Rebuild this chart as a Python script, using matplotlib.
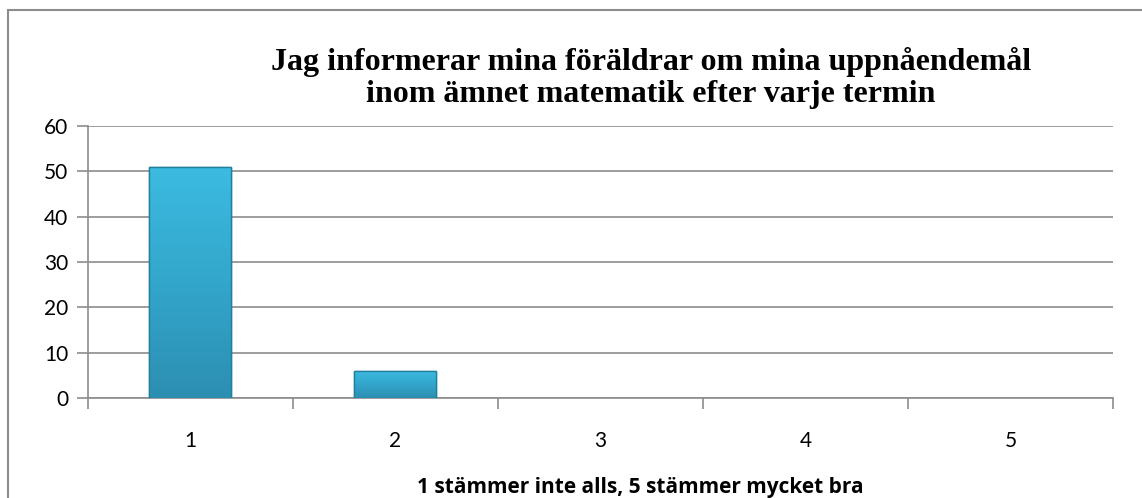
import matplotlib
matplotlib.use('Agg')
import matplotlib.pyplot as plt
import matplotlib.patches as mpatches
from matplotlib.colors import LinearSegmentedColormap
import numpy as np

categories = ['1', '2', '3', '4', '5']
values = [51, 6, 0, 0, 0]
yticks = [0, 10, 20, 30, 40, 50, 60]

EDGE = '#23809D'
GRID = '#8c8c8c'
SANS = ['Lato', 'DejaVu Sans']

fig = plt.figure(figsize=(11.42, 4.98), dpi=100, facecolor='white')
ax = fig.add_axes([0.077, 0.2008, 0.8976, 0.5462])

x = list(range(len(categories)))
bars = ax.bar(x, values, width=0.4, color='#35AED2', edgecolor=EDGE, linewidth=1.0, zorder=3)

# vertical gradient inside each bar (lighter top, darker bottom)
cmap = LinearSegmentedColormap.from_list('bar', ['#2c8fb2', '#33a6cb', '#3cbbe1'])
grad = np.linspace(0, 1, 256).reshape(-1, 1)
for b, v in zip(bars, values):
    if v == 0:
        b.set_visible(False)
        continue
    x0, w = b.get_x(), b.get_width()
    im = ax.imshow(grad, cmap=cmap, origin='lower', aspect='auto',
                   extent=[x0, x0 + w, 0, v], zorder=3.5)
    im.set_clip_path(b)
    ax.add_patch(mpatches.Rectangle((x0, 0), w, v, fill=False, edgecolor=EDGE,
                                    linewidth=1.0, zorder=4))

ax.set_xlim(-0.5, len(categories) - 0.5)
ax.set_ylim(0, 60)
ax.set_yticks(yticks)
ax.set_xticks(x)
ax.set_xticklabels(categories)
ax.set_xticks([i + 0.5 for i in range(-1, len(categories))], minor=True)
ax.tick_params(axis='x', which='major', length=0, pad=24, labelsize=15)
ax.tick_params(axis='x', which='minor', length=8, color=GRID, width=1.2)
ax.tick_params(axis='y', length=8, color=GRID, width=1.2, labelsize=15, pad=6)
ax.grid(axis='y', color=GRID, linewidth=1.2, zorder=0)
for s in ['top', 'right']:
    ax.spines[s].set_visible(False)
for s in ['left', 'bottom']:
    ax.spines[s].set_color(GRID)
    ax.spines[s].set_linewidth(1.2)
for lab in ax.get_xticklabels() + ax.get_yticklabels():
    lab.set_family(SANS)

fig.text(0.561, 1 - 487 / 498, '1 stämmer inte alls, 5 stämmer mycket bra', ha='center', va='center',
         fontsize=15, fontweight='bold', family=['Open Sans', 'DejaVu Sans'])

fig.text(0.570, 0.843, 'Jag informerar mina föräldrar om mina uppnåendemål\ninom ämnet matematik efter varje termin',
         ha='center', va='center', fontsize=23, fontweight='bold',
         family=['Liberation Serif', 'DejaVu Serif'], linespacing=1.15)

# outer chart border
fig.patches.append(mpatches.Rectangle((8 / 1142, -0.05), 1.2, 1 - 10 / 498 + 0.05,
                                      transform=fig.transFigure, fill=False,
                                      edgecolor=GRID, linewidth=1.5))

fig.savefig('out.png', dpi=100, facecolor='white')
